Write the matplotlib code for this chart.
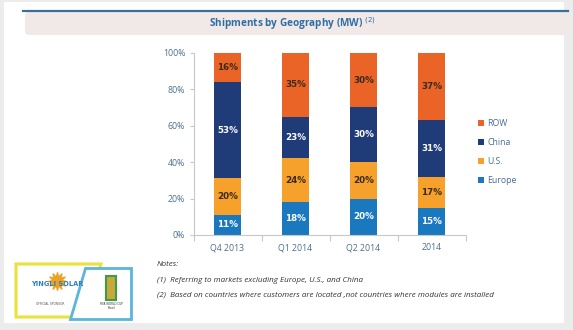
import matplotlib.pyplot as plt
from matplotlib.patches import Rectangle, FancyBboxPatch, Polygon

# shipment shares by region, percent of MW
periods = ["Q4 2013", "Q1 2014", "Q2 2014", "2014"]
europe = [11, 18, 20, 15]
us = [20, 24, 20, 17]
china = [53, 23, 30, 31]
row = [16, 35, 30, 37]

series = [
    ("Europe", europe, "#1a78be", "white"),
    ("U.S.", us, "#f5a12c", "#3a2a1a"),
    ("China", china, "#1f3b78", "white"),
    ("ROW", row, "#ea6428", "#3a2a1a"),
]

W, H = 573, 330
fig = plt.figure(figsize=(W / 100, H / 100), dpi=100)
fig.patch.set_facecolor("#ececec")

# decoration layer in pixel coordinates
deco = fig.add_axes([0, 0, 1, 1])
deco.set_xlim(0, W)
deco.set_ylim(H, 0)
deco.axis("off")
deco.add_patch(Rectangle((4, 2), 560, 321, facecolor="white", edgecolor="none"))
deco.add_patch(FancyBboxPatch((25, 12), 545, 23, boxstyle="round,pad=0,rounding_size=4",
                              facecolor="#f1e9e7", edgecolor="none"))
deco.plot([23, 568], [10.5, 10.5], color="#3a6f96", lw=1.6)
deco.text(292, 23.5, "Shipments by Geography (MW) $^{(2)}$", ha="center", va="center",
          fontsize=7.2, fontweight="bold", color="#2f6ea5", family="Open Sans")

# notes
note_style = dict(fontsize=5.75, style="italic", color="#333333", family="Open Sans", va="center")
deco.text(157, 264, "Notes:", **note_style)
deco.text(157, 280, "(1)  Referring to markets excluding Europe, U.S., and China", **note_style)
deco.text(157, 295, "(2)  Based on countries where customers are located ,not countries where modules are installed",
          **note_style)

# sponsor badge
deco.add_patch(Polygon([(16, 264), (101, 264), (84, 317), (16, 317)], closed=True,
                       facecolor="white", edgecolor="#e9e23c", lw=2.2))
deco.add_patch(Polygon([(85, 268), (131, 268), (131, 319), (70, 319)], closed=True,
                       facecolor="white", edgecolor="#5bb6d9", lw=2.0))
deco.scatter([57], [281], s=160, marker=(12, 1, 0), color="#f0a020", zorder=3)
deco.text(57, 284, "YINGLI SOLAR", ha="center", va="center", fontsize=4.8,
          fontweight="bold", color="#2e7fc0", zorder=4)
deco.text(50, 304, "OFFICIAL SPONSOR", ha="center", va="center", fontsize=2.2, color="#555555")
deco.add_patch(Rectangle((106, 276), 10, 24, facecolor="#c9a93a", edgecolor="#3f9a4a", lw=1.5))
deco.text(111, 306, "FIFA WORLD CUP\nBrasil", ha="center", va="center", fontsize=2.0,
          color="#333333", linespacing=1.1)

# chart
ax = fig.add_axes([193.5 / W, 1 - 235 / H, 272 / W, 182.3 / H])
ax.set_facecolor("none")
x = range(len(periods))
bottoms = [0] * len(periods)
for name, vals, color, tcolor in series:
    ax.bar(x, vals, width=0.4, bottom=bottoms, color=color, label=name, zorder=2)
    for i, v in enumerate(vals):
        ax.text(i, bottoms[i] + v / 2, f"{v}%", ha="center", va="center",
                fontsize=6.3, fontweight="bold", color=tcolor, zorder=3)
    bottoms = [b + v for b, v in zip(bottoms, vals)]

ax.set_xlim(-0.5, 3.5)
ax.set_ylim(0, 100)
ax.set_yticks(range(0, 101, 20))
ax.set_yticklabels([f"{t}%" for t in range(0, 101, 20)])
ax.set_xticks([i + 0.5 for i in range(-1, 4)], minor=False)
ax.set_xticklabels([])
ax.set_xticks(list(x), minor=True)
ax.set_xticklabels(periods, minor=True)
ax.tick_params(axis="x", which="major", length=4, color="#c8c8c8", direction="out")
ax.tick_params(axis="x", which="minor", length=0, pad=6, labelsize=6.3, labelcolor="#4a6f8f")
ax.tick_params(axis="y", length=3, color="#c8c8c8", pad=3, labelsize=6.3, labelcolor="#4a6f8f")
for lab in ax.get_xticklabels(minor=True) + ax.get_yticklabels():
    lab.set_family("Open Sans")
for side in ["top", "right"]:
    ax.spines[side].set_visible(False)
for side in ["left", "bottom"]:
    ax.spines[side].set_color("#c8c8c8")
    ax.spines[side].set_linewidth(0.8)

handles, labels = ax.get_legend_handles_labels()
leg = fig.legend(handles[::-1], labels[::-1], loc="upper left", bbox_to_anchor=(470 / W, 1 - 111 / H),
                 frameon=False, handlelength=0.7, handleheight=0.7,
                 handletextpad=0.4, labelspacing=1.15, labelcolor="#4a6f8f",
                 prop={"family": "Open Sans", "size": 6.3})

fig.savefig("out.png", dpi=100, facecolor=fig.get_facecolor())
